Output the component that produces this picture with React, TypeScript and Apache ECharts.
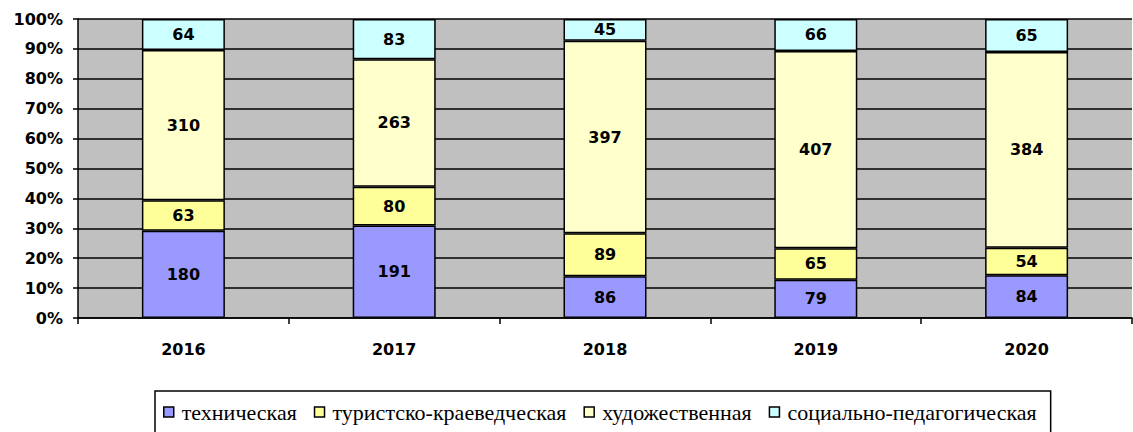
import React, { useEffect, useRef } from "react";
import * as echarts from "echarts";

const years = ["2016", "2017", "2018", "2019", "2020"];
const seriesNames = ["техническая", "туристско-краеведческая", "художественная", "социально-педагогическая"];
const technical = [180, 191, 86, 79, 84];
const tourist = [63, 80, 89, 65, 54];
const artistic = [310, 263, 397, 407, 384];
const social = [64, 83, 45, 66, 65];
const colors = ["#9999FF", "#FFFF99", "#FFFFCC", "#CCFFFF"];

const SANS = "Verdana, 'DejaVu Sans', sans-serif";
const SERIF = "'Times New Roman', 'Liberation Serif', serif";

export default function App() {
  const ref = useRef<HTMLDivElement>(null);
  useEffect(() => {
    if (!ref.current) return;
    const chart = echarts.init(ref.current, null, { renderer: "svg" });
    const all = [technical, tourist, artistic, social];
    const totals = years.map((_, i) => all.reduce((s, arr) => s + arr[i], 0));
    const series = all.map((arr, k) => ({
      name: seriesNames[k],
      type: "bar",
      stack: "total",
      barWidth: 83,
      data: arr.map((v, i) => ({ value: (v / totals[i]) * 100 })),
      itemStyle: { color: colors[k], borderColor: "#000", borderWidth: 1.5 },
      label: {
        show: true,
        position: "inside",
        color: "#000",
        fontFamily: SANS,
        fontWeight: "bold",
        fontSize: 16,
        formatter: (p: any) => String(arr[p.dataIndex]),
      },
    }));
    chart.setOption({
      animation: false,
      textStyle: { fontFamily: SANS },
      grid: {
        left: 78,
        right: 1,
        top: 19,
        bottom: 114,
        show: true,
        backgroundColor: "#C0C0C0",
        borderWidth: 0,
      },
      legend: {
        left: 155,
        top: 391,
        borderColor: "#000",
        borderWidth: 1.5,
        padding: [10, 14, 30, 8],
        itemWidth: 10,
        itemHeight: 10,
        itemGap: 17,
        icon: "rect",
        data: seriesNames.map((n, k) => ({
          name: n,
          itemStyle: { color: colors[k], borderColor: "#000", borderWidth: 1.5 },
        })),
        textStyle: {
          fontFamily: SERIF,
          fontSize: 22,
          color: "#000",
          padding: [0, 0, 0, 3],
        },
      },
      xAxis: {
        type: "category",
        data: years,
        axisLine: { lineStyle: { color: "#000", width: 1.5 } },
        axisTick: { show: true, length: 6, lineStyle: { color: "#000", width: 1.5 } },
        axisLabel: {
          color: "#000",
          fontFamily: SANS,
          fontWeight: "bold",
          fontSize: 16,
          margin: 23,
        },
      },
      yAxis: {
        type: "value",
        min: 0,
        max: 100,
        interval: 10,
        axisLine: { show: true, lineStyle: { color: "#000", width: 1.5 } },
        axisTick: { show: true, length: 5, lineStyle: { color: "#000", width: 1.5 } },
        splitLine: { lineStyle: { color: "#000", width: 1.5 } },
        axisLabel: {
          color: "#000",
          fontFamily: SANS,
          fontWeight: "bold",
          fontSize: 16,
          margin: 15,
          formatter: "{value}%",
        },
      },
      series,
    });
    return () => chart.dispose();
  }, []);
  return (
    <div
      ref={ref}
      style={{ position: "absolute", left: 0, top: 0, width: 1133, height: 432, background: "#fff" }}
    />
  );
}
